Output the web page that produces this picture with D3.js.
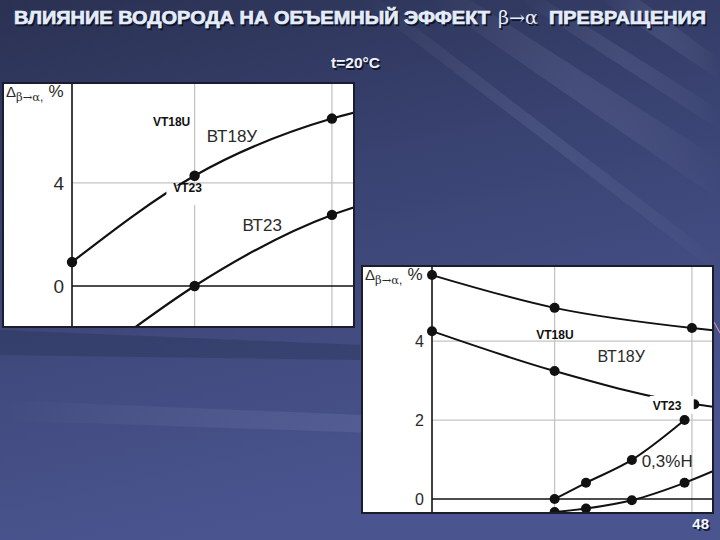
<!DOCTYPE html>
<html><head><meta charset="utf-8">
<script src="https://cdn.jsdelivr.net/npm/d3@7"></script>
<style>body{margin:0;overflow:hidden;background:#353e6a}</style>
</head><body>
<svg id="c" width="720" height="540"></svg>
<script>
// ---------- DATA ----------
const titleMain = "ВЛИЯНИЕ ВОДОРОДА НА ОБЪЕМНЫЙ ЭФФЕКТ";
const titleSym = "β→α";
const titleEnd = "ПРЕВРАЩЕНИЯ";
const subTitle = "t=20°C";
const pageNum = "48";

const xGrid = [0, 0.1, 0.212];
const leftTicks = [0, 4];
const rightTicks = [0, 2, 4];

// left panel series
const leftBT18U_line = [[0, 0.93], [0.1, 4.28], [0.212, 6.5], [0.24, 6.85]];
const leftBT18U_dots = [[0, 0.93], [0.1, 4.28], [0.212, 6.5]];
const leftBT23_line = [[0.04, -2.0], [0.1, 0], [0.212, 2.76], [0.24, 3.2]];
const leftBT23_dots = [[0.1, 0], [0.212, 2.76]];

// right panel series
const rightBT18U_a_line = [[0, 5.67], [0.1, 4.84], [0.212, 4.33], [0.24, 4.24]];
const rightBT18U_a_dots = [[0, 5.67], [0.1, 4.84], [0.212, 4.33]];
const rightBT18U_b_line = [[0, 4.25], [0.1, 3.24], [0.214, 2.4], [0.24, 2.3]];
const rightBT18U_b_dots = [[0, 4.25], [0.1, 3.24], [0.214, 2.4]];
const rightH03_line = [[0.1, 0], [0.1256, 0.41], [0.163, 0.99], [0.206, 2.0]];
const rightH03_dots = [[0.1, 0], [0.1256, 0.41], [0.163, 0.99], [0.206, 2.0]];
const rightLow_line = [[0.1, -0.33], [0.1256, -0.24], [0.163, -0.03], [0.206, 0.41], [0.24, 0.85]];
const rightLow_dots = [[0.1, -0.33], [0.1256, -0.24], [0.163, -0.03], [0.206, 0.41]];

// ---------- DRAW ----------
const svg = d3.select("#c");
const defs = svg.append("defs");

// background
const bg = defs.append("linearGradient").attr("id", "bg").attr("x1", 0).attr("y1", 0).attr("x2", 0.3).attr("y2", 1);
bg.append("stop").attr("offset", 0).attr("stop-color", "#2a3152");
bg.append("stop").attr("offset", 0.45).attr("stop-color", "#3a4473");
bg.append("stop").attr("offset", 1).attr("stop-color", "#4a5590");
svg.append("rect").attr("width", 720).attr("height", 540).attr("fill", "url(#bg)");
const streak = defs.append("linearGradient").attr("id", "st").attr("x1", 0).attr("y1", 0).attr("x2", 1).attr("y2", 0);
streak.append("stop").attr("offset", 0).attr("stop-color", "#fff").attr("stop-opacity", 0);
streak.append("stop").attr("offset", 0.5).attr("stop-color", "#aab4e0").attr("stop-opacity", 0.12);
streak.append("stop").attr("offset", 1).attr("stop-color", "#fff").attr("stop-opacity", 0);
const streaks = [
  "M430,0 L470,0 L720,160 L720,200 Z",
  "M520,0 L545,0 L720,110 L720,130 Z",
  "M600,0 L640,0 L720,60 L720,80 Z",
  "M360,0 L380,0 L720,260 L720,275 Z",
  "M0,400 L720,430 L720,445 L0,420 Z",
  "M0,220 L360,250 L360,262 L0,235 Z"
];
svg.selectAll("path.st").data(streaks).join("path").attr("d", d => d).attr("fill", "url(#st)");
svg.append("path").attr("d", "M0,330 L360,345 L360,360 L0,355 Z").attr("fill", "#222a48").attr("opacity", 0.3);

// title
function ttl(txt, x, len, font, weight, sw) {
  [[1.5, "#10152a"], [0, "#e4ecfa"]].forEach(([o, c]) => {
    svg.append("text").attr("x", x + o).attr("y", 24 + o).text(txt)
      .attr("font-family", font).attr("font-weight", weight).attr("font-size", 18)
      .attr("fill", c).attr("stroke", c).attr("stroke-width", sw)
      .attr("textLength", len).attr("lengthAdjust", "spacingAndGlyphs");
  });
}
ttl(titleMain, 14, 476, "Liberation Sans, Arial", "bold", 0.7);
ttl(titleSym, 498, 40, "DejaVu Serif, serif", "normal", 0);
ttl(titleEnd, 549, 157, "Liberation Sans, Arial", "bold", 0.7);
[[1.5, "#10152a"], [0, "#eef2fb"]].forEach(([o, c]) => {
  svg.append("text").attr("x", 355.5 + o).attr("y", 68 + o).attr("text-anchor", "middle").text(subTitle)
    .attr("font-family", "Liberation Sans, Arial").attr("font-weight", "bold").attr("font-size", 15.5).attr("fill", c);
});
[[1.5, "#151a35"], [0, "#f4f6fc"]].forEach(([o, c]) => {
  svg.append("text").attr("x", 709 + o).attr("y", 529 + o).attr("text-anchor", "end").text(pageNum)
    .attr("font-family", "Liberation Sans, Arial").attr("font-weight", "bold").attr("font-size", 15).attr("fill", c);
});
// small pink stroke at right edge
svg.append("line").attr("x1", 714).attr("y1", 322).attr("x2", 720).attr("y2", 333).attr("stroke", "#d08ab0").attr("stroke-width", 1.2);

function panel(cfg) {
  const {id, left, right, top, bottom, axisX, yMin, yMax, ticks, tickSize, series, labels, boxes, lw, r} = cfg;
  const x = d3.scaleLinear().domain([0, 0.23]).range([axisX, axisX + 282]);
  const y = d3.scaleLinear().domain([yMin, yMax]).range([bottom, top]);
  const g = svg.append("g");
  g.append("rect").attr("x", left).attr("y", top).attr("width", right - left).attr("height", bottom - top).attr("fill", "#fff");
  defs.append("clipPath").attr("id", id).append("rect").attr("x", left).attr("y", top).attr("width", right - left).attr("height", bottom - top);
  const pg = g.append("g").attr("clip-path", `url(#${id})`);
  // grid
  pg.selectAll("line.vg").data(xGrid.slice(1)).join("line")
    .attr("x1", d => x(d)).attr("x2", d => x(d)).attr("y1", top).attr("y2", bottom)
    .attr("stroke", "#c4c4c4").attr("stroke-width", 1.3);
  pg.selectAll("line.hg").data(ticks.filter(t => t !== 0)).join("line")
    .attr("x1", axisX).attr("x2", right).attr("y1", d => y(d)).attr("y2", d => y(d))
    .attr("stroke", "#c4c4c4").attr("stroke-width", 1.3);
  pg.append("line").attr("x1", axisX).attr("x2", right).attr("y1", y(0)).attr("y2", y(0)).attr("stroke", "#111").attr("stroke-width", 1.4);
  pg.append("line").attr("x1", axisX).attr("x2", axisX).attr("y1", top).attr("y2", bottom).attr("stroke", "#111").attr("stroke-width", 1.6);
  // curves
  const line = d3.line().x(d => x(d[0])).y(d => y(d[1])).curve(d3.curveMonotoneX);
  series.forEach(s => {
    pg.append("path").attr("d", line(s.line)).attr("fill", "none").attr("stroke", "#111").attr("stroke-width", lw);
    pg.selectAll(null).data(s.dots).join("circle").attr("cx", d => x(d[0])).attr("cy", d => y(d[1])).attr("r", r).attr("fill", "#111");
  });
  // label boxes
  boxes.forEach(b => pg.append("rect").attr("x", x(b[0])).attr("y", y(b[1])).attr("width", x(b[2]) - x(b[0])).attr("height", y(b[3]) - y(b[1])).attr("fill", "#fff"));
  labels.forEach(l => {
    pg.append("text").attr("x", x(l.x)).attr("y", y(l.y)).text(l.t)
      .attr("font-family", "Liberation Sans, Arial").attr("font-size", l.s).attr("font-weight", l.b ? "bold" : "normal")
      .attr("fill", l.b ? "#111" : "#2a2a2a");
  });
  // tick labels
  g.selectAll(null).data(ticks).join("text").attr("x", axisX - 8).attr("y", d => y(d)).attr("dy", "0.36em")
    .attr("text-anchor", "end").text(d => d).attr("font-family", "Liberation Sans, Arial").attr("font-size", tickSize).attr("fill", "#2a2a2a");
  // axis title
  const at = g.append("text").attr("x", left + 3).attr("y", top + 14).attr("fill", "#2a2a2a").attr("font-family", "Liberation Sans, Arial");
  at.append("tspan").text("Δ").attr("font-size", 15);
  at.append("tspan").text("β→α").attr("font-size", 11.5).attr("dy", 4).attr("font-family", "DejaVu Serif, serif");
  at.append("tspan").text(",").attr("font-size", 12);
  at.append("tspan").text("%").attr("font-size", 17).attr("dy", -4).attr("dx", 5);
  g.append("rect").attr("x", left).attr("y", top).attr("width", right - left).attr("height", bottom - top)
    .attr("fill", "none").attr("stroke", "#1b1d2c").attr("stroke-width", 2);
}

panel({id: "cl", left: 3, right: 354, top: 83, bottom: 327, axisX: 72, yMin: -1.59, yMax: 7.88,
  ticks: leftTicks, tickSize: 19, lw: 2.2, r: 5.2,
  series: [{line: leftBT18U_line, dots: leftBT18U_dots}, {line: leftBT23_line, dots: leftBT23_dots}],
  boxes: [[0.077, 3.9, 0.118, 3.15]],
  labels: [{t: "ВТ18У", x: 0.110, y: 5.6, s: 17}, {t: "ВТ23", x: 0.139, y: 2.13, s: 17},
           {t: "VT18U", x: 0.066, y: 6.2, s: 12, b: 1}, {t: "VT23", x: 0.0825, y: 3.66, s: 12, b: 1}]});

panel({id: "cr", left: 362, right: 713, top: 266, bottom: 513, axisX: 432, yMin: -0.354, yMax: 5.9,
  ticks: rightTicks, tickSize: 16, lw: 2, r: 5,
  series: [{line: rightBT18U_a_line, dots: rightBT18U_a_dots}, {line: rightBT18U_b_line, dots: rightBT18U_b_dots},
           {line: rightH03_line, dots: rightH03_dots}, {line: rightLow_line, dots: rightLow_dots}],
  boxes: [[0.1775, 2.61, 0.2135, 2.16]],
  labels: [{t: "ВТ18У", x: 0.135, y: 3.47, s: 16}, {t: "0,3%H", x: 0.171, y: 0.81, s: 17},
           {t: "VT18U", x: 0.085, y: 4.04, s: 12, b: 1}, {t: "VT23", x: 0.18, y: 2.25, s: 12, b: 1}]});
</script>
</body></html>
